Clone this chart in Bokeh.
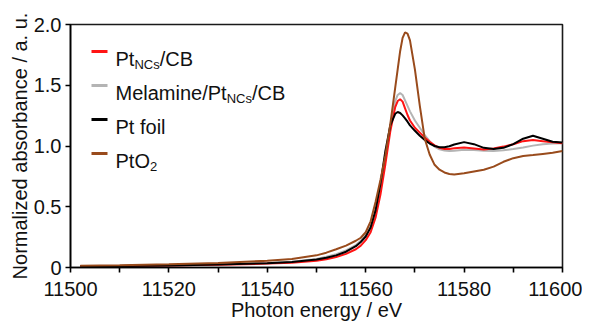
from bokeh.plotting import figure
from bokeh.models import Range1d, FixedTicker, Label, BoxAnnotation
from bokeh.embed import file_html
from bokeh.resources import INLINE

# ---------------- data ----------------
energy = [11502, 11510, 11520, 11530, 11540, 11545, 11550, 11552, 11554, 11556,
          11558, 11559, 11560, 11561, 11562, 11563, 11564, 11565, 11566, 11566.5,
          11567, 11567.5, 11568, 11568.5, 11569, 11570, 11571, 11572, 11573, 11574,
          11575, 11576, 11577, 11578, 11580, 11582, 11584, 11586, 11588, 11590,
          11592, 11594, 11596, 11598, 11600]

pt_ncs_cb = [0.010, 0.012, 0.016, 0.022, 0.032, 0.040, 0.055, 0.068, 0.087, 0.112,
             0.150, 0.180, 0.225, 0.290, 0.410, 0.600, 0.850, 1.120, 1.320, 1.370,
             1.385, 1.365, 1.310, 1.255, 1.210, 1.150, 1.110, 1.070, 1.035, 1.005,
             0.985, 0.975, 0.976, 0.982, 0.988, 0.980, 0.972, 0.980, 0.995, 1.015,
             1.040, 1.050, 1.040, 1.030, 1.022]

melamine_pt_ncs_cb = [0.010, 0.013, 0.018, 0.025, 0.037, 0.048, 0.070, 0.088, 0.110, 0.140,
                      0.185, 0.220, 0.265, 0.340, 0.470, 0.660, 0.910, 1.170, 1.370, 1.420,
                      1.435, 1.420, 1.375, 1.330, 1.285, 1.210, 1.150, 1.090, 1.040, 0.995,
                      0.972, 0.962, 0.958, 0.960, 0.970, 0.968, 0.960, 0.958, 0.965, 0.975,
                      0.988, 1.003, 1.015, 1.020, 1.022]

pt_foil = [0.010, 0.012, 0.017, 0.024, 0.035, 0.045, 0.065, 0.080, 0.100, 0.130,
           0.175, 0.210, 0.255, 0.330, 0.470, 0.690, 0.960, 1.170, 1.265, 1.280,
           1.272, 1.252, 1.228, 1.200, 1.170, 1.125, 1.085, 1.050, 1.020, 1.000,
           0.990, 0.990, 0.998, 1.012, 1.032, 1.015, 0.985, 0.975, 0.985, 1.015,
           1.060, 1.085, 1.060, 1.035, 1.028]

pto2 = [0.015, 0.018, 0.026, 0.038, 0.055, 0.070, 0.100, 0.122, 0.150, 0.180,
        0.220, 0.245, 0.290, 0.380, 0.540, 0.720, 0.920, 1.180, 1.480, 1.630,
        1.780, 1.890, 1.935, 1.925, 1.870, 1.630, 1.330, 1.060, 0.930, 0.845,
        0.805, 0.782, 0.770, 0.766, 0.775, 0.790, 0.805, 0.830, 0.870, 0.900,
        0.918, 0.925, 0.935, 0.945, 0.958]

x_ticks = [11500, 11520, 11540, 11560, 11580, 11600]
x_minor_ticks = [11510, 11530, 11550, 11570, 11590]
y_ticks = [0, 0.5, 1.0, 1.5, 2.0]
y_tick_labels = ["0", "0.5", "1.0", "1.5", "2.0"]

x_label = "Photon energy / eV"
y_label = "Normalized absorbance / a. u."

# legend: (colour, [(text, is_subscript), ...])
legend_entries = [
    ("#ff1414", [("Pt", False), ("NCs", True), ("/CB", False)]),
    ("#b4b4b4", [("Melamine/Pt", False), ("NCs", True), ("/CB", False)]),
    ("#000000", [("Pt foil", False)]),
    ("#994b1c", [("PtO", False), ("2", True)]),
]
series = [pt_ncs_cb, melamine_pt_ncs_cb, pt_foil, pto2]
draw_order = [1, 0, 2, 3]

# ---------------- styling ----------------
FONT = "Liberation Sans"
FS = 20
SUB_FS = 13

p = figure(width=582, height=325, output_backend="svg", toolbar_location=None,
           x_range=Range1d(11500, 11600), y_range=Range1d(0, 2.0),
           min_border_left=70, min_border_right=20, min_border_top=24,
           min_border_bottom=58)
p.background_fill_color = "white"
p.border_fill_color = "white"
p.outline_line_color = "#1a1a1a"
p.outline_line_width = 1.6
p.grid.visible = False

for i in draw_order:
    p.line(energy, series[i], line_color=legend_entries[i][0], line_width=2.0)

xa = p.xaxis[0]
xa.ticker = FixedTicker(ticks=x_ticks, minor_ticks=x_minor_ticks)
ya = p.yaxis[0]
ya.ticker = FixedTicker(ticks=y_ticks, minor_ticks=[])
ya.major_label_overrides = {t: l for t, l in zip(y_ticks, y_tick_labels)}

for ax in (xa, ya):
    ax.axis_line_color = "black"
    ax.axis_line_width = 1.6
    ax.major_tick_line_color = "black"
    ax.major_tick_line_width = 1.6
    ax.minor_tick_line_color = "black"
    ax.minor_tick_line_width = 1.6
    ax.major_tick_in = 0
    ax.major_tick_out = 5
    ax.minor_tick_in = 0
    ax.minor_tick_out = 5
    ax.major_label_text_font = FONT
    ax.major_label_text_font_size = f"{FS}px"
    ax.major_label_text_color = "#111111"
    ax.axis_label_text_font = FONT
    ax.axis_label_text_font_size = f"{FS}px"
    ax.axis_label_text_font_style = "normal"
    ax.axis_label_text_color = "#111111"

xa.axis_label = x_label
ya.axis_label = y_label
xa.major_label_standoff = 9
xa.axis_label_standoff = 0
ya.major_label_standoff = 4
ya.axis_label_standoff = 0

# ---------------- manual legend (frame-relative screen units) ----------------
WIDTH_EM = {"P": 667, "t": 278, "N": 722, "C": 722, "s": 500, "/": 278, "B": 667,
            "M": 833, "e": 556, "l": 222, "a": 556, "m": 833, "i": 222, "n": 556,
            "O": 778, "2": 556, " ": 278, "f": 278, "o": 556}

def text_width(s, size):
    return sum(WIDTH_EM.get(c, 556) for c in s) * size / 1000.0

row_step = 34
first_baseline = 209
swatch_left, swatch_right = 21, 37
text_left = 45

for k, (color, pieces) in enumerate(legend_entries):
    base = first_baseline - k * row_step
    p.add_layout(BoxAnnotation(left=swatch_left, right=swatch_right,
                               bottom=base + 5.5, top=base + 8.5,
                               left_units="screen", right_units="screen",
                               bottom_units="screen", top_units="screen",
                               fill_color=color, fill_alpha=1.0,
                               line_color=None, level="overlay"))
    xpos = text_left
    for txt, sub in pieces:
        size = SUB_FS if sub else FS
        p.add_layout(Label(x=xpos, y=base - (6 if sub else 0),
                           x_units="screen", y_units="screen", text=txt,
                           text_font=FONT, text_font_size=f"{size}px",
                           text_color="#111111", text_align="left",
                           text_baseline="alphabetic"))
        xpos += text_width(txt, size)

open("out.html", "w").write(file_html(p, INLINE))
